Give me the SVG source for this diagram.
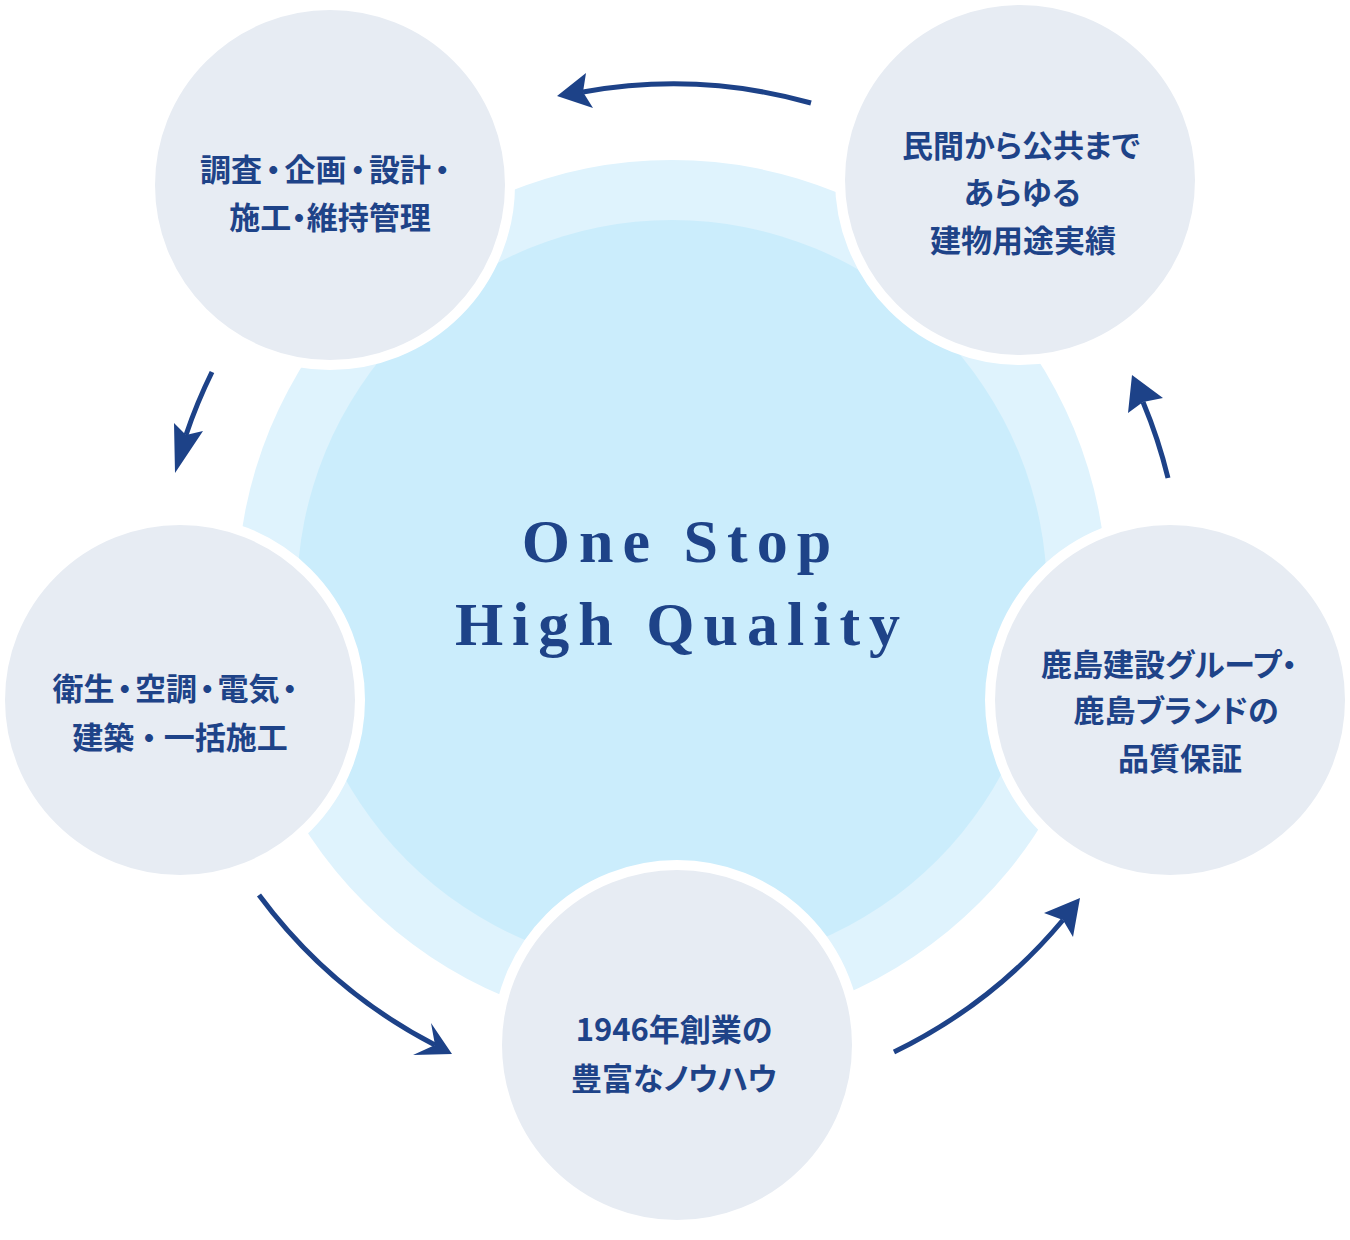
<svg xmlns="http://www.w3.org/2000/svg" width="1350" height="1240" viewBox="0 0 1350 1240">
<style>
.bg{fill:#ffffff}
.ring{fill:#dff3fd}
.core{fill:#cbedfc}
.node circle{fill:#e7ecf3;stroke:#ffffff;stroke-width:10}
.label{font-family:"Noto Sans CJK JP","Noto Sans",sans-serif;font-weight:700;font-size:31px;fill:#1e4388;text-anchor:middle;font-feature-settings:"palt"}
.title{font-family:"Liberation Serif",serif;font-weight:700;font-size:62px;fill:#1e4388;text-anchor:middle;letter-spacing:9px}
.conn path{fill:none;stroke:#1d4288;stroke-width:5}
.conn polygon{fill:#1d4288}
</style>
<rect class="bg" x="0" y="0" width="1350" height="1240"/>
<g id="hub">
<circle class="ring" cx="672" cy="595" r="435"/>
<circle class="core" cx="672" cy="595" r="375"/>
<text class="title" x="681" y="562">One Stop</text>
<text class="title" x="682" y="645">High Quality</text>
</g>
<g id="node-plan" class="node">
<circle cx="330" cy="185" r="180"/>
<text class="label" x="325" y="181">調査<tspan dx="3.5">・</tspan><tspan dx="3.5">企画</tspan><tspan dx="3.5">・</tspan><tspan dx="3.5">設計</tspan><tspan dx="3.5">・</tspan></text>
<text class="label" x="330" y="229">施工・維持管理</text>
</g>
<g id="node-record" class="node">
<circle cx="1020" cy="180" r="180"/>
<text class="label" x="1021" y="157">民間から公共まで</text>
<text class="label" x="1022" y="204">あらゆる</text>
<text class="label" x="1023" y="252">建物用途実績</text>
</g>
<g id="node-works" class="node">
<circle cx="180" cy="700" r="180"/>
<text class="label" x="175" y="700">衛生<tspan dx="2.5">・</tspan><tspan dx="2.5">空調</tspan><tspan dx="2.5">・</tspan><tspan dx="2.5">電気</tspan><tspan dx="2.5">・</tspan></text>
<text class="label" x="180" y="749">建築<tspan dx="7">・</tspan><tspan dx="7">一括施工</tspan></text>
</g>
<g id="node-quality" class="node">
<circle cx="1170" cy="700" r="180"/>
<text class="label" x="1169" y="676">鹿島建設グループ・</text>
<text class="label" x="1176" y="722">鹿島ブランドの</text>
<text class="label" x="1180" y="770">品質保証</text>
</g>
<g id="node-knowhow" class="node">
<circle cx="677" cy="1045" r="180"/>
<text class="label" x="674" y="1041">1946年創業の</text>
<text class="label" x="674" y="1090">豊富なノウハウ</text>
</g>
<g id="connectors" class="conn">
<path d="M811,103 A510,510 0 0 0 583,92"/>
<polygon points="557,96 586,73 583,92 593,108"/>
<path d="M212,372 A510,510 0 0 0 186,435"/>
<polygon points="175,473 174,423 186,435 203,431"/>
<path d="M259,895 A510,510 0 0 0 435,1045"/>
<polygon points="452,1054 431,1023 435,1045 413,1055"/>
<path d="M894,1052 A510,510 0 0 0 1063,920"/>
<polygon points="1080,898 1044,913 1063,920 1073,937"/>
<path d="M1168,478 A510,510 0 0 0 1143,402"/>
<polygon points="1132,375 1128,413 1143,402 1163,398"/>
</g>
</svg>
